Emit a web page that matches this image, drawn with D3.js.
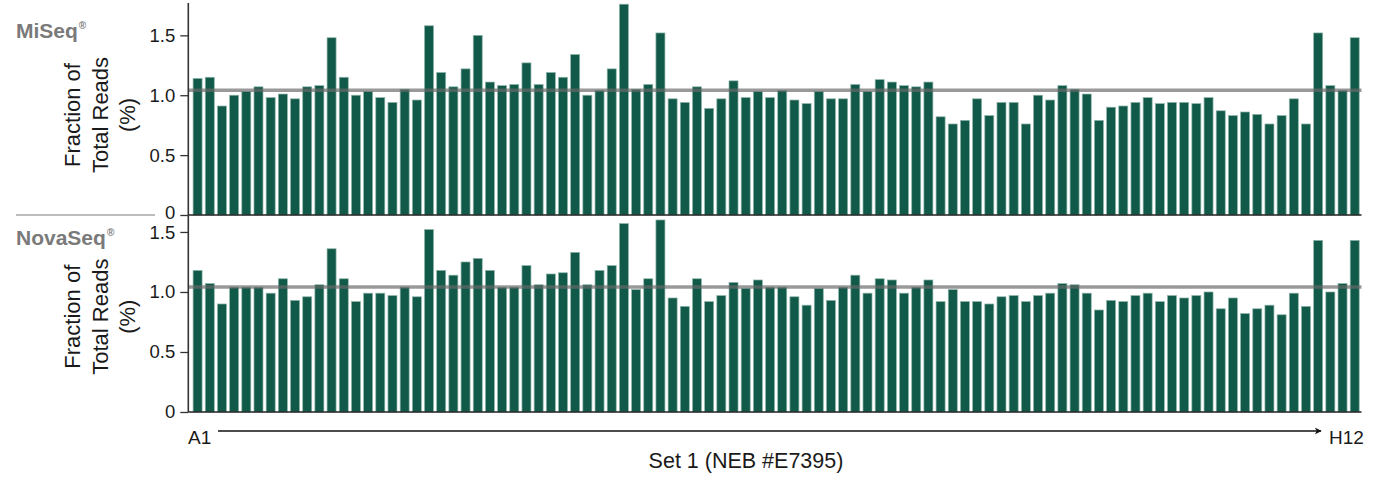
<!DOCTYPE html>
<html>
<head>
<meta charset="utf-8">
<script src="https://cdn.jsdelivr.net/npm/d3@7"></script>
<style>
  html, body { margin: 0; padding: 0; background: #fff; }
  svg { display: block; font-family: "Liberation Sans", Arial, Helvetica, sans-serif; }
</style>
</head>
<body>
<svg id="chart" width="1384" height="490"></svg>
<script>
// ---- data ----
const wells = d3.range(1, 97).map(i => "W" + i);
const miseqValues = [
  1.14, 1.15, 0.91, 1.00, 1.03, 1.07, 0.98, 1.01, 0.97, 1.07, 1.08, 1.48, 1.15, 1.00, 1.03, 0.98,
  0.94, 1.05, 0.96, 1.58, 1.19, 1.07, 1.22, 1.50, 1.11, 1.08, 1.09, 1.27, 1.09, 1.19, 1.15, 1.34,
  1.00, 1.04, 1.22, 1.76, 1.05, 1.09, 1.52, 0.97, 0.94, 1.07, 0.89, 0.97, 1.12, 0.98, 1.03, 0.98,
  1.04, 0.96, 0.93, 1.03, 0.97, 0.97, 1.09, 1.03, 1.13, 1.11, 1.08, 1.07, 1.11, 0.82, 0.76, 0.79,
  0.97, 0.83, 0.94, 0.94, 0.76, 1.00, 0.96, 1.08, 1.05, 1.01, 0.79, 0.90, 0.91, 0.94, 0.98, 0.93,
  0.94, 0.94, 0.93, 0.98, 0.87, 0.83, 0.86, 0.84, 0.76, 0.83, 0.97, 0.76, 1.52, 1.08, 1.04, 1.48
];
const novaseqValues = [
  1.18, 1.07, 0.90, 1.04, 1.04, 1.04, 0.99, 1.11, 0.93, 0.96, 1.06, 1.36, 1.11, 0.92, 0.99, 0.99,
  0.97, 1.04, 0.96, 1.52, 1.18, 1.14, 1.25, 1.28, 1.18, 1.04, 1.04, 1.22, 1.06, 1.15, 1.16, 1.33,
  1.06, 1.18, 1.22, 1.57, 1.02, 1.11, 1.60, 0.95, 0.88, 1.11, 0.92, 0.97, 1.08, 1.03, 1.10, 1.04,
  1.04, 0.96, 0.89, 1.03, 0.93, 1.04, 1.14, 0.99, 1.11, 1.10, 0.99, 1.04, 1.10, 0.92, 1.02, 0.92,
  0.92, 0.90, 0.96, 0.97, 0.92, 0.97, 0.99, 1.07, 1.06, 0.99, 0.85, 0.93, 0.92, 0.97, 0.99, 0.92,
  0.97, 0.95, 0.97, 1.00, 0.86, 0.95, 0.82, 0.86, 0.89, 0.81, 0.99, 0.88, 1.43, 1.00, 1.07, 1.43
];
const expectedFraction = 1 / 96 * 100;   // 1.04 %
const yTicks = [0, 0.5, 1.0, 1.5];
const yTickLabels = ["0", "0.5", "1.0", "1.5"];
const panelNames = ["MiSeq", "NovaSeq"];
const yTitleLines = ["Fraction of", "Total Reads", "(%)"];
const firstWell = "A1", lastWell = "H12";
const xTitle = "Set 1 (NEB #E7395)";

// ---- layout ----
const svg = d3.select("#chart");
const axisX = 188.3, plotRight = 1361.5;
const barColor = "#115a4a";
const x = d3.scaleBand().domain(wells).range([191.5, 1360.8]).paddingInner(0.26).paddingOuter(0.13);

const panels = [
  { name: panelNames[0], values: miseqValues, y0: 215, yTop: 3, max: 1.77, labelY: 38, zeroDy: -2 },
  { name: panelNames[1], values: novaseqValues, y0: 412, yTop: 215.4, max: 1.638, labelY: 245, zeroDy: 0 }
];

panels.forEach((p, pi) => {
  const y = d3.scaleLinear().domain([0, p.max]).range([p.y0, p.yTop]);
  const g = svg.append("g");

  // bars
  g.selectAll("rect.bar").data(p.values).join("rect")
    .attr("class", "bar")
    .attr("x", (d, i) => x(wells[i]))
    .attr("width", x.bandwidth())
    .attr("y", d => y(d))
    .attr("height", d => p.y0 - y(d))
    .attr("fill", barColor)
    .attr("stroke", "#8fb5aa")
    .attr("stroke-width", 0.7);

  // expected line
  g.append("line")
    .attr("x1", axisX).attr("x2", plotRight)
    .attr("y1", y(expectedFraction)).attr("y2", y(expectedFraction))
    .attr("stroke", "rgba(105,105,105,0.68)")
    .attr("stroke-width", 3.6);

  // y axis
  const yAxis = d3.axisLeft(y).tickValues(yTicks)
    .tickFormat((d, i) => yTickLabels[i]).tickSize(8).tickPadding(5);
  const ya = g.append("g").attr("transform", `translate(${axisX},0)`).call(yAxis);
  ya.select(".domain").attr("stroke", "#333").attr("stroke-width", 1.6)
    .attr("d", `M0,${p.yTop}V${p.y0}`);
  ya.selectAll(".tick line").attr("stroke", "#333").attr("stroke-width", 1.3);
  ya.selectAll(".tick text").attr("fill", "#1a1a1a").style("font-size", "18.5px")
    .style("font-family", "'Liberation Sans', Arial, sans-serif");
  ya.selectAll(".tick text").filter(d => d === 0).attr("dy", (0.32 * 18.5 + p.zeroDy) + "px");
  if (pi === 1) ya.selectAll(".tick text").filter(d => d === 1.5).attr("dy", (0.32 * 18.5 + 1) + "px");

  // x baseline
  g.append("line").attr("x1", axisX).attr("x2", plotRight)
    .attr("y1", p.y0).attr("y2", p.y0)
    .attr("stroke", "#222").attr("stroke-width", 1.6);

  // panel label
  const lab = g.append("text").attr("x", 16).attr("y", p.labelY)
    .attr("fill", "#7a7a7a").style("font-size", "21px").style("font-weight", "bold");
  lab.append("tspan").text(p.name);
  lab.append("tspan").text("®").style("font-size", "10px").attr("dy", -9).attr("dx", 1);

  // y title
  const cy = (p.y0 + p.yTop) / 2 + (pi === 0 ? 6 : 3);
  const t = g.append("text")
    .attr("transform", `translate(${72},${cy}) rotate(-90)`)
    .attr("text-anchor", "middle").attr("fill", "#1a1a1a").style("font-size", "22px");
  yTitleLines.forEach((line, i) => {
    t.append("tspan").attr("x", 0).attr("y", i * 27.5 + 8).text(line);
  });
});

// separator between panels
svg.append("line").attr("x1", 16).attr("x2", 155).attr("y1", 215).attr("y2", 215)
  .attr("stroke", "#bdbdbd").attr("stroke-width", 2);

// A1 -> H12 arrow
svg.append("defs").append("marker")
  .attr("id", "arrow").attr("viewBox", "0 0 10 10").attr("refX", 9).attr("refY", 5)
  .attr("markerWidth", 7).attr("markerHeight", 7).attr("markerUnits", "userSpaceOnUse")
  .attr("orient", "auto")
  .append("path").attr("d", "M0,0 L10,5 L0,10 L3,5 Z").attr("fill", "#111");
svg.append("line").attr("x1", 218).attr("x2", 1321).attr("y1", 431).attr("y2", 431)
  .attr("stroke", "#111").attr("stroke-width", 1.5).attr("marker-end", "url(#arrow)");
svg.append("text").attr("x", 188).attr("y", 444).text(firstWell)
  .attr("fill", "#1a1a1a").style("font-size", "19px");
svg.append("text").attr("x", 1329).attr("y", 444).text(lastWell)
  .attr("fill", "#1a1a1a").style("font-size", "19px");

// x title
svg.append("text").attr("x", 746).attr("y", 468).attr("text-anchor", "middle")
  .text(xTitle).attr("fill", "#1a1a1a").style("font-size", "21.5px");
</script>
</body>
</html>
